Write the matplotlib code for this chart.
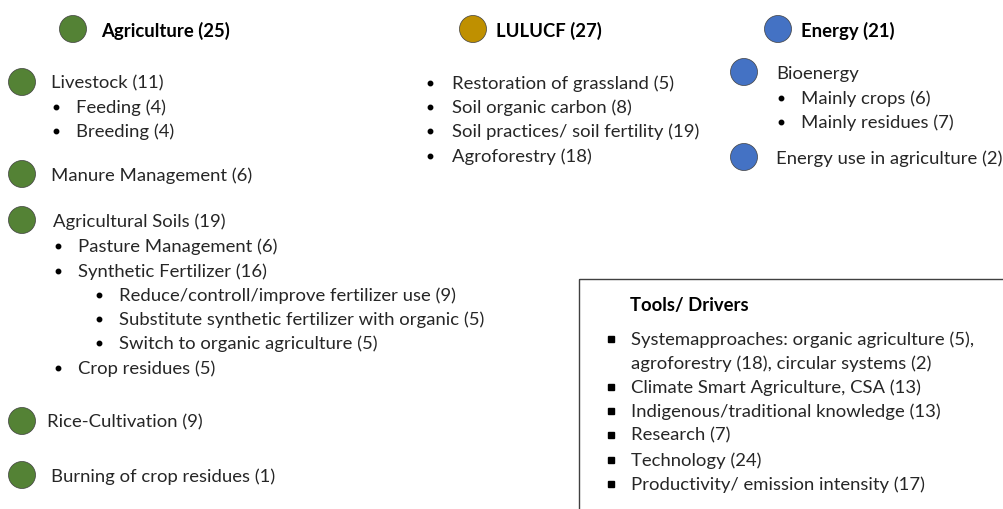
import matplotlib.pyplot as plt
from matplotlib.patches import Circle, Rectangle

plt.rcParams['font.family'] = ['Lato', 'DejaVu Sans']

# group headers
groups = ['Agriculture', 'LULUCF', 'Energy']
group_counts = [25, 27, 21]
group_colors = ['#548235', '#BF9000', '#4472C4']

# agriculture items; level 0 = circle, 1 = bullet, 2 = sub-bullet
agri_labels = ['Livestock', 'Feeding', 'Breeding', 'Manure Management',
               'Agricultural Soils', 'Pasture Management', 'Synthetic Fertilizer',
               'Reduce/controll/improve fertilizer use',
               'Substitute synthetic fertilizer with organic',
               'Switch to organic agriculture', 'Crop residues',
               'Rice-Cultivation', 'Burning of crop residues']
agri_counts = [11, 4, 4, 6, 19, 6, 16, 9, 5, 5, 5, 9, 1]
agri_levels = [0, 1, 1, 0, 0, 1, 1, 2, 2, 2, 1, 0, 0]

lulucf_labels = ['Restoration of grassland', 'Soil organic carbon',
                 'Soil practices/ soil fertility', 'Agroforestry']
lulucf_counts = [5, 8, 19, 18]

energy_labels = ['Bioenergy', 'Mainly crops', 'Mainly residues', 'Energy use in agriculture']
energy_counts = [None, 6, 7, 2]
energy_levels = [0, 1, 1, 0]

tools_title = 'Tools/ Drivers'
tools_items = [['Systemapproaches: organic agriculture (5),',
                'agroforestry (18), circular systems (2)'],
               ['Climate Smart Agriculture, CSA (13)'],
               ['Indigenous/traditional knowledge (13)'],
               ['Research (7)'],
               ['Technology (24)'],
               ['Productivity/ emission intensity (17)']]

# layout (pixel coordinates)
agri_y = [82, 106, 130, 174, 220, 245, 270, 294, 318, 342, 367, 421, 475]
agri_text_x = [51, 76, 76, 51, 53, 78, 78, 119, 119, 119, 78, 47, 51]
lulucf_y = [82, 106, 130, 155]
energy_y = [72, 97, 121, 157]
tools_y = [338, 386, 410, 434, 459, 483]

FS = 13.3
TXT = '#262626'
DY = 1.5  # small baseline nudge


def lab(name, n):
    return name if n is None else f'{name} ({n})'


fig = plt.figure(figsize=(10.04, 5.09), dpi=100)
ax = fig.add_axes([0, 0, 1, 1])
ax.set_xlim(0, 1004)
ax.set_ylim(509, 0)
ax.axis('off')


def dot(x, y, color, r=13.5):
    ax.add_patch(Circle((x, y), r, facecolor=color, edgecolor='#3f3f3f',
                        linewidth=0.5, zorder=3))


def bullet(x, y):
    ax.plot(x + 3, y + 0.5, marker='o', markersize=3.2, color='black', linestyle='none')


def write(x, y, s, bold=False):
    ax.text(x, y + DY, s, fontsize=FS, va='center', color='black' if bold else TXT,
            fontweight='bold' if bold else 'normal')


# headers
head_dot_x = [73, 473, 778]
head_txt_x = [101, 496, 801]
for name, n, c, dx, tx in zip(groups, group_counts, group_colors, head_dot_x, head_txt_x):
    dot(dx, 29, c)
    write(tx, 29, lab(name, n), bold=True)

# agriculture
for name, n, lv, y, x in zip(agri_labels, agri_counts, agri_levels, agri_y, agri_text_x):
    if lv == 0:
        dot(22, y, group_colors[0])
    else:
        bullet(x - 23, y)
    write(x, y, lab(name, n))

# LULUCF
for name, n, y in zip(lulucf_labels, lulucf_counts, lulucf_y):
    bullet(427, y)
    write(452, y, lab(name, n))

# Energy
for name, n, lv, y in zip(energy_labels, energy_counts, energy_levels, energy_y):
    if lv == 0:
        dot(744, y, group_colors[2])
        write(776, y, lab(name, n))
    else:
        bullet(778, y)
        write(801, y, lab(name, n))

# Tools / drivers box
ax.add_patch(Rectangle((579, 279), 500, 300, facecolor='none', edgecolor='#404040',
                       linewidth=1.0))
write(630, 304, tools_title, bold=True)
for lines, y in zip(tools_items, tools_y):
    ax.plot(611, y + 0.5, marker='s', markersize=4.0, color='black', linestyle='none')
    for k, line in enumerate(lines):
        write(631, y + 24 * k, line)

fig.savefig('out.png', dpi=100)
